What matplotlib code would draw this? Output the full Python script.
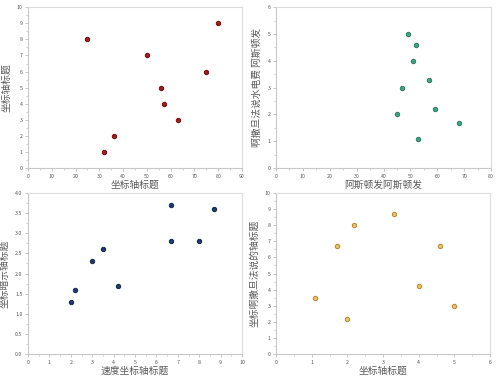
import matplotlib.pyplot as plt
from matplotlib.ticker import MultipleLocator

plt.rcParams['font.family'] = ['Noto Sans CJK SC', 'DejaVu Sans']

# panel 1 (top left)
x1 = [25, 32, 36, 50, 56, 57, 63, 75, 80]
y1 = [8, 1, 2, 7, 5, 4, 3, 6, 9]
# panel 2 (top right)
x2 = [45, 47, 49, 51, 52, 53, 57, 59, 68]
y2 = [2, 3, 5, 4, 4.6, 1.1, 3.3, 2.2, 1.7]
# panel 3 (bottom left)
x3 = [2, 2.2, 3, 3.5, 4.2, 6.7, 6.7, 8, 8.7]
y3 = [1.3, 1.6, 2.3, 2.6, 1.7, 3.7, 2.8, 2.8, 3.6]
# panel 4 (bottom right)
x4 = [1.1, 1.7, 2.0, 2.2, 3.3, 4.0, 4.6, 5.0]
y4 = [3.5, 6.7, 2.2, 8.0, 8.7, 4.2, 6.7, 3.0]

panels = [
    dict(x=x1, y=y1, color='#a8191c', edge='#6e1012', xlim=(0, 90), xstep=10,
         ylim=(0, 10), ystep=1, xlabel='坐标轴标题', ylabel='坐标轴标题',
         rect=[0.056, 0.554, 0.428, 0.427], yfmt='{:.0f}'),
    dict(x=x2, y=y2, color='#3ea781', edge='#2a7a5c', xlim=(0, 80), xstep=10,
         ylim=(0, 6), ystep=1, xlabel='阿斯顿发阿斯顿发', ylabel='啊撒旦法说水电费 阿斯顿发',
         rect=[0.552, 0.554, 0.430, 0.427], yfmt='{:.0f}'),
    dict(x=x3, y=y3, color='#1f3c6b', edge='#142848', xlim=(0, 10), xstep=1,
         ylim=(0, 4), ystep=0.5, xlabel='速度坐标轴标题', ylabel='坐标暗示轴标题',
         rect=[0.056, 0.061, 0.428, 0.427], yfmt='{:.1f}'),
    dict(x=x4, y=y4, color='#e8c46a', edge='#b8862a', xlim=(0, 6), xstep=1,
         ylim=(0, 10), ystep=1, xlabel='坐标轴标题', ylabel='坐标啊撒旦法说的轴标题',
         rect=[0.552, 0.061, 0.428, 0.427], yfmt='{:.0f}'),
]

fig = plt.figure(figsize=(5, 3.77), dpi=100)

for p in panels:
    ax = fig.add_axes(p['rect'])
    ax.scatter(p['x'], p['y'], s=10, color=p['color'], edgecolors=p['edge'],
               linewidths=0.7, zorder=3)
    ax.set_xlim(*p['xlim'])
    ax.set_ylim(*p['ylim'])
    ax.xaxis.set_major_locator(MultipleLocator(p['xstep']))
    ax.xaxis.set_minor_locator(MultipleLocator(p['xstep'] / 2))
    ax.yaxis.set_major_locator(MultipleLocator(p['ystep']))
    ax.yaxis.set_minor_locator(MultipleLocator(p['ystep'] / 2))
    ax.set_yticklabels([p['yfmt'].format(v) for v in ax.get_yticks()])
    for s in ax.spines.values():
        s.set_color('#c8c8c8')
        s.set_linewidth(0.8)
    ax.spines['top'].set_color('#dcdcdc')
    ax.spines['right'].set_color('#dcdcdc')
    ax.tick_params(which='both', direction='out', color='#bbbbbb', labelsize=3.8,
                   labelcolor='#555555', pad=2)
    ax.tick_params(which='major', length=2, width=0.6)
    ax.tick_params(which='minor', length=1.5, width=0.5)
    ax.set_xlabel(p['xlabel'], fontsize=7, color='#595959', labelpad=1)
    ax.set_ylabel(p['ylabel'], fontsize=7, color='#595959', labelpad=4)

fig.savefig('out.png', dpi=100)
